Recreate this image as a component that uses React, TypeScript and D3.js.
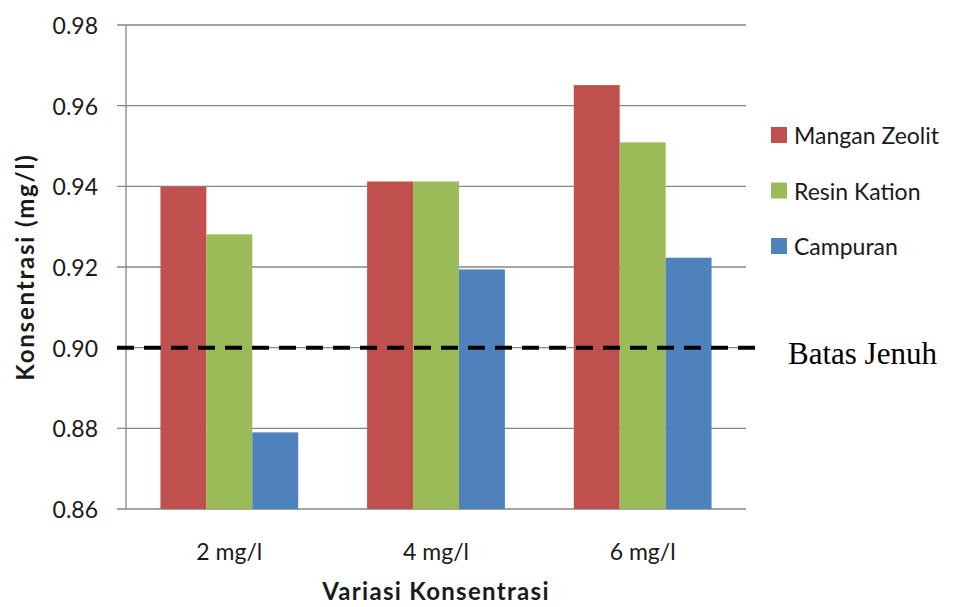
import React from "react";
import * as d3 from "d3";

const categories = ["2 mg/l", "4 mg/l", "6 mg/l"];
const seriesNames = ["Mangan Zeolit", "Resin Kation", "Campuran"];
const manganZeolit = [0.9399, 0.9412, 0.9651];
const resinKation = [0.9281, 0.9412, 0.9509];
const campuran = [0.879, 0.9194, 0.9223];
const seriesColors = ["#C0504D", "#9BBB59", "#4F81BD"];
const yTicks = [0.86, 0.88, 0.9, 0.92, 0.94, 0.96, 0.98];
const batasJenuh = 0.9;
const batasLabel = "Batas Jenuh";
const xTitle = "Variasi Konsentrasi";
const yTitle = "Konsentrasi (mg/l)";

export default function App() {
  const width = 968;
  const height = 607;
  const left = 126;
  const right = 746;
  const top = 25;
  const bottom = 509;
  const seriesValues = [manganZeolit, resinKation, campuran];

  const x = d3
    .scaleBand<string>()
    .domain(categories)
    .range([left, right])
    .paddingInner(1.5 / 4.5)
    .paddingOuter(0.75 / 4.5);
  const xs = d3
    .scaleBand<string>()
    .domain(seriesNames)
    .range([0, x.bandwidth()])
    .padding(0);
  const y = d3.scaleLinear().domain([0.86, 0.98]).range([bottom, top]);
  const catCenter = (c: string) => (x(c) as number) + x.bandwidth() / 2;

  const font = "Lato, 'Open Sans', sans-serif";
  const grid = "#868686";

  return (
    <svg
      width={width}
      height={height}
      style={{ position: "absolute", left: 0, top: 0, background: "#fff" }}
    >
      <rect x={0} y={0} width={width} height={height} fill="#fff" />
      {yTicks.map((t) => (
        <g key={t}>
          <line x1={117} x2={right} y1={y(t)} y2={y(t)} stroke={grid} strokeWidth={1.3} />
          <text
            x={98}
            y={y(t)}
            textAnchor="end"
            dominantBaseline="central"
            fontFamily={font}
            fontSize={23}
            fill="#1a1a1a"
          >
            {t.toFixed(2)}
          </text>
        </g>
      ))}
      <line x1={left} x2={left} y1={top} y2={bottom} stroke={grid} strokeWidth={1.3} />
      {categories.map((c, ci) =>
        seriesNames.map((s, si) => {
          const v = seriesValues[si][ci];
          return (
            <rect
              key={c + s}
              x={(x(c) as number) + (xs(s) as number)}
              y={y(v)}
              width={xs.bandwidth()}
              height={bottom - y(v)}
              fill={seriesColors[si]}
            />
          );
        })
      )}
      {categories.map((c) => (
        <text
          key={c}
          x={catCenter(c)}
          y={560}
          textAnchor="middle"
          fontFamily={font}
          fontSize={23}
          fill="#1a1a1a"
        >
          {c}
        </text>
      ))}
      <text
        x={(left + right) / 2}
        y={600}
        textAnchor="middle"
        fontFamily={font}
        fontWeight="bold"
        fontSize={24}
        letterSpacing={1.3}
        fill="#1a1a1a"
      >
        {xTitle}
      </text>
      <text
        transform={`translate(34, ${(top + bottom) / 2}) rotate(-90)`}
        textAnchor="middle"
        fontFamily={font}
        fontWeight="bold"
        fontSize={24}
        letterSpacing={1.8}
        fill="#1a1a1a"
      >
        {yTitle}
      </text>
      <line
        x1={117}
        x2={765}
        y1={y(batasJenuh)}
        y2={y(batasJenuh)}
        stroke="#000"
        strokeWidth={4}
        strokeDasharray="17,10"
      />
      <text
        x={788}
        y={364}
        fontFamily="'Liberation Serif', 'Times New Roman', serif"
        fontSize={31}
        fill="#000"
      >
        {batasLabel}
      </text>
      {seriesNames.map((s, i) => {
        const cy = 135 + i * 55.5;
        return (
          <g key={s}>
            <rect x={771} y={cy - 8} width={16} height={16} fill={seriesColors[i]} />
            <text
              x={794}
              y={cy}
              dominantBaseline="central"
              fontFamily={font}
              fontSize={23}
              fill="#1a1a1a"
            >
              {s}
            </text>
          </g>
        );
      })}
    </svg>
  );
}
